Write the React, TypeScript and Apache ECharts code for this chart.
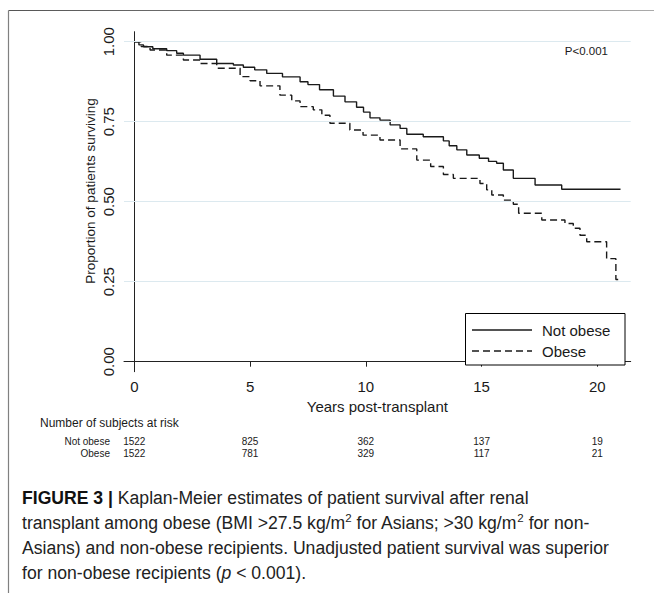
import React, { useEffect, useRef } from "react";
import * as echarts from "echarts";

// ---- data ----
const xTicks = [0, 5, 10, 15, 20];
const yTicks = [0, 0.25, 0.5, 0.75, 1];
const gridValues = [0.25, 0.5, 0.75, 1];
const groups = ["Not obese", "Obese"];

const notObeseT = [0, 0.2, 0.4, 0.8, 1.4, 1.83, 2.12, 2.84, 3.56, 4.28, 4.71, 5.2, 5.72, 6.4, 7.16, 7.5, 8.0, 8.6, 9.1, 9.6, 9.9, 10.18, 10.61, 11.05, 11.48, 11.77, 12.48, 13.35, 13.6, 13.93, 14.36, 14.9, 15.3, 15.65, 15.94, 16.37, 17.31, 18.46, 21.0];
const notObeseS = [1.0, 0.99, 0.984, 0.978, 0.972, 0.964, 0.958, 0.945, 0.932, 0.927, 0.92, 0.912, 0.901, 0.89, 0.875, 0.866, 0.85, 0.83, 0.812, 0.795, 0.78, 0.762, 0.755, 0.74, 0.729, 0.711, 0.703, 0.69, 0.675, 0.662, 0.646, 0.636, 0.626, 0.62, 0.599, 0.573, 0.552, 0.539, 0.539];

const obeseT = [0, 0.3, 0.68, 1.4, 2.12, 2.84, 3.56, 4.57, 5.0, 5.43, 6.29, 6.8, 7.16, 7.73, 8.1, 8.45, 9.31, 9.88, 10.61, 11.48, 12.2, 12.8, 13.35, 13.78, 14.93, 15.22, 15.44, 15.94, 16.37, 16.6, 17.6, 18.6, 18.96, 19.25, 19.54, 20.4, 20.8, 20.9];
const obeseS = [1.0, 0.985, 0.974, 0.958, 0.943, 0.932, 0.917, 0.891, 0.878, 0.862, 0.833, 0.815, 0.797, 0.787, 0.77, 0.745, 0.724, 0.708, 0.693, 0.665, 0.63, 0.61, 0.585, 0.573, 0.557, 0.537, 0.521, 0.505, 0.492, 0.464, 0.443, 0.432, 0.417, 0.395, 0.375, 0.322, 0.257, 0.257];

const riskTimes = [0, 5, 10, 15, 20];
const notObeseRisk = [1522, 825, 362, 137, 19];
const obeseRisk = [1522, 781, 329, 117, 21];

const FONT = "'Liberation Sans', Arial, Helvetica, sans-serif";
const INK = "#1a1a1a";

export default function App() {
  const ref = useRef<HTMLDivElement>(null);

  useEffect(() => {
    const chart = echarts.init(ref.current!, null, { renderer: "svg" });
    const zip = (t: number[], s: number[]) => t.map((v, i) => [v, s[i]]);

    chart.setOption({
      animation: false,
      backgroundColor: "#ffffff",
      grid: { left: 124, right: 23.3, top: 31.7, bottom: 221.3, outerBoundsMode: "none" },
      xAxis: {
        type: "value",
        min: -0.445,
        max: 21.44,
        axisLine: { show: true, lineStyle: { color: "#222", width: 1 } },
        axisTick: { show: true, length: 5, customValues: xTicks, lineStyle: { color: "#222" } },
        axisLabel: { show: true, customValues: xTicks, color: INK, fontSize: 15, fontFamily: FONT, margin: 7 },
        splitLine: { show: false },
      },
      yAxis: {
        type: "value",
        min: -0.03125,
        max: 1.03125,
        axisLine: { show: true, lineStyle: { color: "#222", width: 1 } },
        axisTick: { show: true, length: 5, customValues: yTicks, lineStyle: { color: "#222" } },
        axisLabel: {
          show: true,
          customValues: yTicks,
          rotate: 90,
          color: INK,
          fontSize: 15,
          fontFamily: FONT,
          margin: 8,
          formatter: (v: number) => v.toFixed(2),
        },
        splitLine: { show: false },
      },
      series: [
        {
          type: "line",
          name: "grid",
          data: [],
          z: 1,
          silent: true,
          markLine: {
            silent: true,
            symbol: "none",
            label: { show: false },
            lineStyle: { color: "#dce9ef", width: 1, type: "solid" },
            data: gridValues.map((v) => ({ yAxis: v })),
          },
        },
        {
          type: "line",
          name: groups[0],
          step: "end",
          showSymbol: false,
          symbol: "none",
          z: 3,
          lineStyle: { color: INK, width: 1.4, type: "solid" },
          data: zip(notObeseT, notObeseS),
        },
        {
          type: "line",
          name: groups[1],
          step: "end",
          showSymbol: false,
          symbol: "none",
          z: 3,
          lineStyle: { color: INK, width: 1.4, type: [7, 4] },
          data: zip(obeseT, obeseS),
        },
      ],
    });

    const px = (t: number) => chart.convertToPixel({ xAxisIndex: 0 }, t) as number;
    const plotL = px(-0.445);
    const plotR = px(21.44);

    const els: any[] = [];
    // figure frame
    els.push({
      type: "line", shape: { x1: 8.5, y1: 10.5, x2: 654, y2: 10.5 },
      style: {
        stroke: new echarts.graphic.LinearGradient(8, 0, 654, 0, [
          { offset: 0, color: "#555" },
          { offset: 1, color: "#aaa" },
        ], true),
        lineWidth: 1.2,
      },
    });
    els.push({ type: "line", shape: { x1: 8.5, y1: 10.5, x2: 8.5, y2: 593 }, style: { stroke: "#808080", lineWidth: 1.2 } });

    // y-axis title
    els.push({
      type: "text", x: 90, y: 191, rotation: Math.PI / 2,
      style: { text: "Proportion of patients surviving", font: `13.5px ${FONT}`, fill: INK, align: "center", verticalAlign: "middle" },
    });
    // x-axis title
    els.push({
      type: "text", x: (plotL + plotR) / 2, y: 406,
      style: { text: "Years post-transplant", font: `15px ${FONT}`, fill: INK, align: "center", verticalAlign: "middle" },
    });
    // p-value
    els.push({
      type: "text", x: 608, y: 51,
      style: { text: "P<0.001", font: `11.5px ${FONT}`, fill: INK, align: "right", verticalAlign: "middle" },
    });

    // legend
    els.push({ type: "rect", shape: { x: 465.5, y: 313.5, width: 159.5, height: 51.5 }, style: { fill: "#fff", stroke: "#000", lineWidth: 1 }, z: 10 });
    els.push({ type: "line", shape: { x1: 472, y1: 330, x2: 532, y2: 330 }, style: { stroke: INK, lineWidth: 1.4 }, z: 11 });
    els.push({ type: "line", shape: { x1: 472, y1: 351, x2: 532, y2: 351 }, style: { stroke: INK, lineWidth: 1.4, lineDash: [7, 4] }, z: 11 });
    els.push({ type: "text", x: 542, y: 330, z: 11, style: { text: groups[0], font: `15px ${FONT}`, fill: INK, align: "left", verticalAlign: "middle" } });
    els.push({ type: "text", x: 542, y: 351, z: 11, style: { text: groups[1], font: `15px ${FONT}`, fill: INK, align: "left", verticalAlign: "middle" } });

    // number at risk table
    els.push({ type: "text", x: 40, y: 423, style: { text: "Number of subjects at risk", font: `12px ${FONT}`, fill: INK, align: "left", verticalAlign: "middle" } });
    const rows = [notObeseRisk, obeseRisk];
    const rowY = [441, 453];
    rows.forEach((row, ri) => {
      els.push({ type: "text", x: 110, y: rowY[ri], style: { text: groups[ri], font: `10px ${FONT}`, fill: INK, align: "right", verticalAlign: "middle" } });
      row.forEach((n, ci) => {
        els.push({ type: "text", x: px(riskTimes[ci]), y: rowY[ri], style: { text: String(n), font: `10px ${FONT}`, fill: INK, align: "center", verticalAlign: "middle" } });
      });
    });

    // caption
    const CS = 17.6;
    const capBase = { fontSize: CS, fontFamily: FONT, fill: "#222", lineHeight: 21 };
    const rich = {
      b: { fontSize: CS, fontFamily: FONT, fontWeight: "bold", fill: "#111", lineHeight: 21 },
      s: { fontSize: 11.5, fontFamily: FONT, fill: "#222", verticalAlign: "top", lineHeight: 12 },
      i: { fontSize: CS, fontFamily: FONT, fontStyle: "italic", fill: "#222", lineHeight: 21 },
    };
    const capLines = [
      "{b|FIGURE 3 |} Kaplan-Meier estimates of patient survival after renal",
      "transplant among obese (BMI >27.5 kg/m{s|2} for Asians; >30 kg/m{s|2} for non-",
      "Asians) and non-obese recipients. Unadjusted patient survival was superior",
      "for non-obese recipients ({i|p} < 0.001).",
    ];
    capLines.forEach((t, i) => {
      els.push({ type: "text", x: 22, y: 487 + i * 25, style: { ...capBase, text: t, rich, align: "left", verticalAlign: "top" } });
    });

    chart.setOption({ graphic: { elements: els } });
    return () => chart.dispose();
  }, []);

  return (
    <div
      ref={ref}
      style={{ position: "absolute", left: 0, top: 0, width: 654, height: 593, background: "#fff" }}
    />
  );
}
